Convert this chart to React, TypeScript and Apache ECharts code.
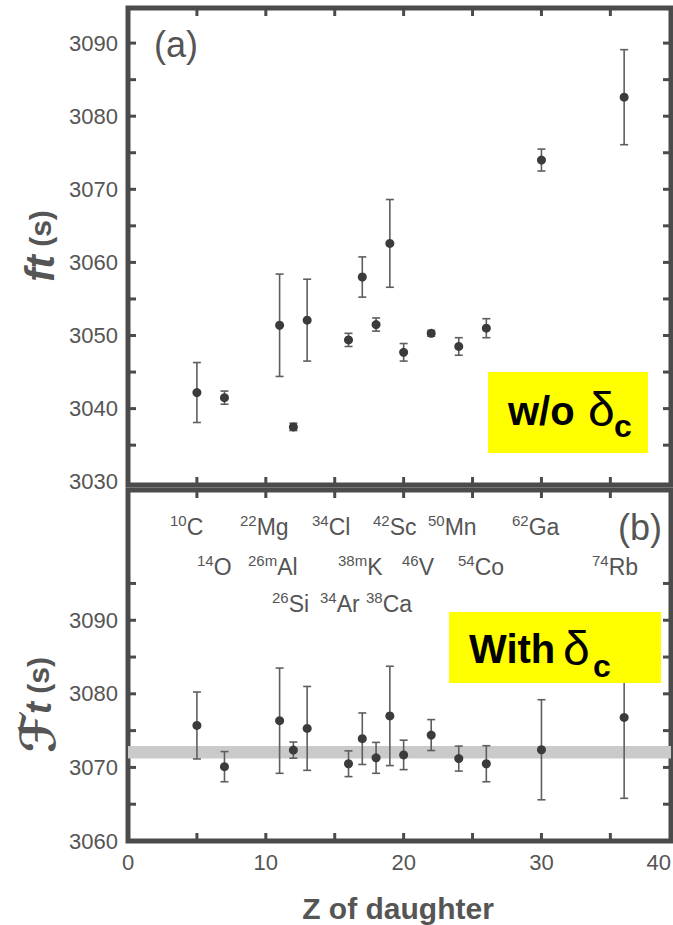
import React, { useEffect, useRef } from 'react';
import * as echarts from 'echarts';

// ---------- data ----------
const zDaughter = [5, 7, 11, 12, 13, 16, 17, 18, 19, 20, 22, 24, 26, 30, 36];
const ftValues = [3042.2, 3041.5, 3051.4, 3037.5, 3052.1, 3049.4, 3058.0, 3051.5, 3062.6, 3047.7, 3050.3, 3048.5, 3051.0, 3074.0, 3082.6];
const ftErrors = [4.1, 0.9, 7.0, 0.5, 5.6, 0.9, 2.75, 0.9, 6.0, 1.2, 0.4, 1.2, 1.3, 1.5, 6.5];
const FtValues = [3075.7, 3070.1, 3076.35, 3072.35, 3075.3, 3070.5, 3073.9, 3071.3, 3077.0, 3071.7, 3074.4, 3071.2, 3070.5, 3072.4, 3076.8];
const FtErrors = [4.55, 2.05, 7.15, 1.1, 5.7, 1.75, 3.5, 2.1, 6.75, 2.0, 2.1, 1.7, 2.45, 6.8, 11.0];
const FtBand = [3071.2, 3072.9];

const xLabelValues = [0, 10, 20, 30, 40];
const xTickValues = [5, 10, 15, 20, 25, 30, 35];
const yTickTop = [3035, 3040, 3045, 3050, 3055, 3060, 3065, 3070, 3075, 3080, 3085, 3090];
const yTickBottom = [3065, 3070, 3075, 3080, 3085, 3090, 3095];
const topLabelRange = [3030, 3090];
const bottomLabelRange = [3060, 3090];

const isotopeMass = ['10', '14', '22', '26m', '26', '34', '34', '38m', '38', '42', '46', '50', '54', '62', '74'];
const isotopeSymbol = ['C', 'O', 'Mg', 'Al', 'Si', 'Cl', 'Ar', 'K', 'Ca', 'Sc', 'V', 'Mn', 'Co', 'Ga', 'Rb'];

// ---------- layout ----------
const isotopeX = [170, 197, 240, 248, 272, 312, 320, 338, 366, 373, 402, 428, 458, 512, 592];
const isotopeRow = [0, 1, 0, 1, 2, 0, 2, 1, 2, 0, 1, 0, 1, 0, 1];
const rowTop = [513, 553, 590];

const X_MAX = 39.4;
const Y1 = [3029.55, 3094.8];
const Y2 = [3060, 3107.7];
const G_LEFT = 128;
const G_WIDTH = 543;
const G1_TOP = 8;
const G1_H = 477;
const G2_TOP = 490;
const G2_H = 351;
const TICK_LEN = 8;

const FRAME = '#4b4b4b';
const GRAY = '#555555';
const FONT = '"Liberation Sans", Arial, Helvetica, sans-serif';

function labelGrid(top: number, h: number, range: number[], tr: number[]) {
  const span = range[1] - range[0];
  return {
    left: G_LEFT,
    width: G_WIDTH,
    top: top + (h * (range[1] - tr[1])) / span,
    height: (h * (tr[1] - tr[0])) / span,
    show: false,
    containLabel: false,
    outerBoundsMode: 'none',
  };
}

function xAxisPlain(gridIndex: number) {
  return {
    type: 'value', gridIndex, position: 'bottom', min: 0, max: X_MAX,
    axisLine: { show: false, onZero: false }, axisTick: { show: false }, axisLabel: { show: false }, splitLine: { show: false },
  };
}

function yLabelAxis(gridIndex: number, tr: number[]) {
  return {
    type: 'value',
    gridIndex,
    position: 'left',
    min: tr[0],
    max: tr[1],
    interval: 10,
    axisLine: { show: false, onZero: false },
    splitLine: { show: false },
    axisTick: { show: false },
    axisLabel: {
      show: true, color: GRAY, fontSize: 22, fontFamily: FONT, margin: 10,
      formatter: (v: number) => String(Math.round(v)),
    },
  };
}

function errorBarRender(params: any, api: any) {
  const x = api.value(0);
  const y = api.value(1);
  const e = api.value(2);
  const t = api.coord([x, y + e]);
  const b = api.coord([x, y - e]);
  const hw = 4;
  const style = { stroke: '#5e5e5e', lineWidth: 1.6 };
  return {
    type: 'group',
    children: [
      { type: 'line', shape: { x1: t[0], y1: t[1], x2: b[0], y2: b[1] }, style },
      { type: 'line', shape: { x1: t[0] - hw, y1: t[1], x2: t[0] + hw, y2: t[1] }, style },
      { type: 'line', shape: { x1: b[0] - hw, y1: b[1], x2: b[0] + hw, y2: b[1] }, style },
    ],
  };
}

function bandRender(params: any, api: any) {
  const lo = api.value(1);
  const hi = api.value(2);
  const cs = params.coordSys;
  const pHi = api.coord([0, hi]);
  const pLo = api.coord([0, lo]);
  return {
    type: 'rect',
    shape: { x: cs.x, y: pHi[1], width: cs.width, height: pLo[1] - pHi[1] },
    style: { fill: '#cacaca' },
  };
}

// tick marks as small scatter rectangles sitting on the frame, pushed inward
function tickSeries(axisIdx: number, data: number[][], vertical: boolean, dir: number) {
  return {
    type: 'scatter',
    xAxisIndex: axisIdx,
    yAxisIndex: axisIdx,
    symbol: 'rect',
    symbolSize: vertical ? [3, TICK_LEN] : [TICK_LEN, 3],
    symbolOffset: vertical ? [0, (dir * TICK_LEN) / 2] : [(dir * TICK_LEN) / 2, 0],
    itemStyle: { color: FRAME, opacity: 1 },
    data,
    z: 20,
    clip: false,
    silent: true,
  };
}

export default function App() {
  const ref = useRef<HTMLDivElement>(null);
  useEffect(() => {
    if (!ref.current) return;
    const chart = echarts.init(ref.current, undefined, { renderer: 'svg' });

    const topData = zDaughter.map((z, i) => [z, ftValues[i], ftErrors[i]]);
    const botData = zDaughter.map((z, i) => [z, FtValues[i], FtErrors[i]]);

    const ranges = [Y1, Y2];
    const yTicks = [yTickTop, yTickBottom];
    const tickSeriesAll: any[] = [];
    [0, 1].forEach((g) => {
      const yr = ranges[g];
      tickSeriesAll.push(tickSeries(g, xTickValues.map((v) => [v, yr[0]]), true, -1));
      tickSeriesAll.push(tickSeries(g, xTickValues.map((v) => [v, yr[1]]), true, 1));
      tickSeriesAll.push(tickSeries(g, yTicks[g].map((v) => [0, v]), false, 1));
      tickSeriesAll.push(tickSeries(g, yTicks[g].map((v) => [X_MAX, v]), false, -1));
    });

    const isoGraphics = isotopeSymbol.map((sym, i) => ({
      type: 'text',
      x: isotopeX[i],
      y: rowTop[isotopeRow[i]],
      z: 50,
      style: {
        text: `{s|${isotopeMass[i]}}{e|${sym}}`,
        align: 'left',
        verticalAlign: 'top',
        rich: {
          s: { fontSize: 15, lineHeight: 16, verticalAlign: 'top', fill: GRAY, fontFamily: FONT },
          e: { fontSize: 23, lineHeight: 28, fill: GRAY, fontFamily: FONT },
        },
      },
    }));

    const mainGrid = (top: number, height: number) => ({
      left: G_LEFT, width: G_WIDTH, top, height, show: true, borderColor: FRAME, borderWidth: 5,
      backgroundColor: 'transparent', containLabel: false, outerBoundsMode: 'none',
    });

    const lg3 = labelGrid(G2_TOP, G2_H, Y2, bottomLabelRange);

    const option: any = {
      animation: false,
      backgroundColor: '#ffffff',
      grid: [
        mainGrid(G1_TOP, G1_H),
        mainGrid(G2_TOP, G2_H),
        labelGrid(G1_TOP, G1_H, Y1, topLabelRange),
        lg3,
      ],
      xAxis: [
        xAxisPlain(0),
        xAxisPlain(1),
        { type: 'value', gridIndex: 2, show: false, min: 0, max: 1, axisLine: { show: false, onZero: false } },
        {
          type: 'value',
          gridIndex: 3,
          position: 'bottom',
          min: 0,
          max: X_MAX,
          splitNumber: 8,
          minInterval: 5,
          maxInterval: 5,
          offset: G2_TOP + G2_H - (lg3.top + lg3.height),
          axisLine: { show: false, onZero: false },
          splitLine: { show: false },
          axisTick: { show: false },
          axisLabel: {
            show: true,
            color: GRAY,
            fontSize: 22,
            fontFamily: FONT,
            margin: 10,
            alignMaxLabel: 'right',
            showMaxLabel: true,
            showMinLabel: true,
            hideOverlap: false,
            formatter: (v: number) => {
              const r = Math.round(v / 10) * 10;
              return Math.abs(v - r) < 1 && xLabelValues.includes(r) ? String(r) : '';
            },
          },
        },
      ],
      yAxis: [
        { type: 'value', gridIndex: 0, show: false, min: Y1[0], max: Y1[1], axisLine: { show: false, onZero: false } },
        { type: 'value', gridIndex: 1, show: false, min: Y2[0], max: Y2[1], axisLine: { show: false, onZero: false } },
        yLabelAxis(2, topLabelRange),
        yLabelAxis(3, bottomLabelRange),
      ],
      series: [
        ...tickSeriesAll,
        {
          type: 'custom', name: 'ft error', xAxisIndex: 0, yAxisIndex: 0,
          renderItem: errorBarRender, encode: { x: 0, y: 1 }, data: topData, z: 2, silent: true,
        },
        {
          type: 'scatter', name: 'ft', xAxisIndex: 0, yAxisIndex: 0, symbol: 'circle', symbolSize: 9,
          itemStyle: { color: '#3b3b3b', opacity: 1 }, data: topData.map((d) => [d[0], d[1]]), z: 3, silent: true,
        },
        {
          type: 'custom', name: 'band', xAxisIndex: 1, yAxisIndex: 1,
          renderItem: bandRender, encode: { x: 0, y: [1, 2] }, data: [[0, FtBand[0], FtBand[1]]], z: 1, silent: true,
        },
        {
          type: 'custom', name: 'Ft error', xAxisIndex: 1, yAxisIndex: 1,
          renderItem: errorBarRender, encode: { x: 0, y: 1 }, data: botData, z: 2, silent: true,
        },
        {
          type: 'scatter', name: 'Ft', xAxisIndex: 1, yAxisIndex: 1, symbol: 'circle', symbolSize: 9,
          itemStyle: { color: '#3b3b3b', opacity: 1 }, data: botData.map((d) => [d[0], d[1]]), z: 3, silent: true,
        },
      ],
      graphic: [
        { type: 'rect', z: 100, shape: { x: 488, y: 372, width: 160, height: 81 }, style: { fill: '#ffff00' } },
        { type: 'text', z: 101, x: 508, y: 411, style: { text: 'w/o', fontSize: 40, fontWeight: 'bold', fontFamily: FONT, fill: '#000', align: 'left', verticalAlign: 'middle' } },
        { type: 'text', z: 101, x: 588, y: 409, style: { text: 'δ', fontSize: 48, fontFamily: FONT, fill: '#000', align: 'left', verticalAlign: 'middle' } },
        { type: 'text', z: 101, x: 614, y: 426, style: { text: 'c', fontSize: 32, fontWeight: 'bold', fontFamily: FONT, fill: '#000', align: 'left', verticalAlign: 'middle' } },

        { type: 'rect', z: 100, shape: { x: 449, y: 612, width: 212, height: 71 }, style: { fill: '#ffff00' } },
        { type: 'text', z: 101, x: 469, y: 649, style: { text: 'With', fontSize: 40, fontWeight: 'bold', fontFamily: FONT, fill: '#000', align: 'left', verticalAlign: 'middle' } },
        { type: 'text', z: 101, x: 563, y: 648, style: { text: 'δ', fontSize: 48, fontFamily: FONT, fill: '#000', align: 'left', verticalAlign: 'middle' } },
        { type: 'text', z: 101, x: 593, y: 666, style: { text: 'c', fontSize: 32, fontWeight: 'bold', fontFamily: FONT, fill: '#000', align: 'left', verticalAlign: 'middle' } },

        { type: 'text', z: 50, x: 176, y: 44, style: { text: '(a)', fontSize: 36, fontFamily: FONT, fill: GRAY, align: 'center', verticalAlign: 'middle' } },
        { type: 'text', z: 50, x: 640, y: 527, style: { text: '(b)', fontSize: 36, fontFamily: FONT, fill: GRAY, align: 'center', verticalAlign: 'middle' } },

        {
          type: 'text', z: 50, x: 40, y: 246, rotation: Math.PI / 2,
          style: {
            text: '{f|ft}{g| (s)}', align: 'center', verticalAlign: 'middle',
            rich: {
              f: { fontSize: 40, fontWeight: 'bold', fontStyle: 'italic', fontFamily: FONT, fill: GRAY },
              g: { fontSize: 30, fontWeight: 'bold', fontFamily: FONT, fill: GRAY },
            },
          },
        },
        {
          type: 'text', z: 50, x: 38, y: 705, rotation: Math.PI / 2,
          style: {
            text: '{F|ℱ}{f|t}{g| (s)}', align: 'center', verticalAlign: 'middle',
            rich: {
              F: { fontSize: 48, fontWeight: 'bold', fontFamily: '"DejaVu Sans", "Noto Sans", sans-serif', fill: GRAY },
              f: { fontSize: 36, fontWeight: 'bold', fontStyle: 'italic', fontFamily: FONT, fill: GRAY },
              g: { fontSize: 30, fontWeight: 'bold', fontFamily: FONT, fill: GRAY },
            },
          },
        },
        { type: 'text', z: 50, x: 398, y: 908, style: { text: 'Z of daughter', fontSize: 30, fontWeight: 'bold', fontFamily: FONT, fill: GRAY, align: 'center', verticalAlign: 'middle' } },
        ...isoGraphics,
      ],
    };

    chart.setOption(option);
    return () => chart.dispose();
  }, []);

  return (
    <div
      ref={ref}
      style={{ position: 'absolute', left: 0, top: 0, width: 673, height: 925, background: '#fff' }}
    />
  );
}
